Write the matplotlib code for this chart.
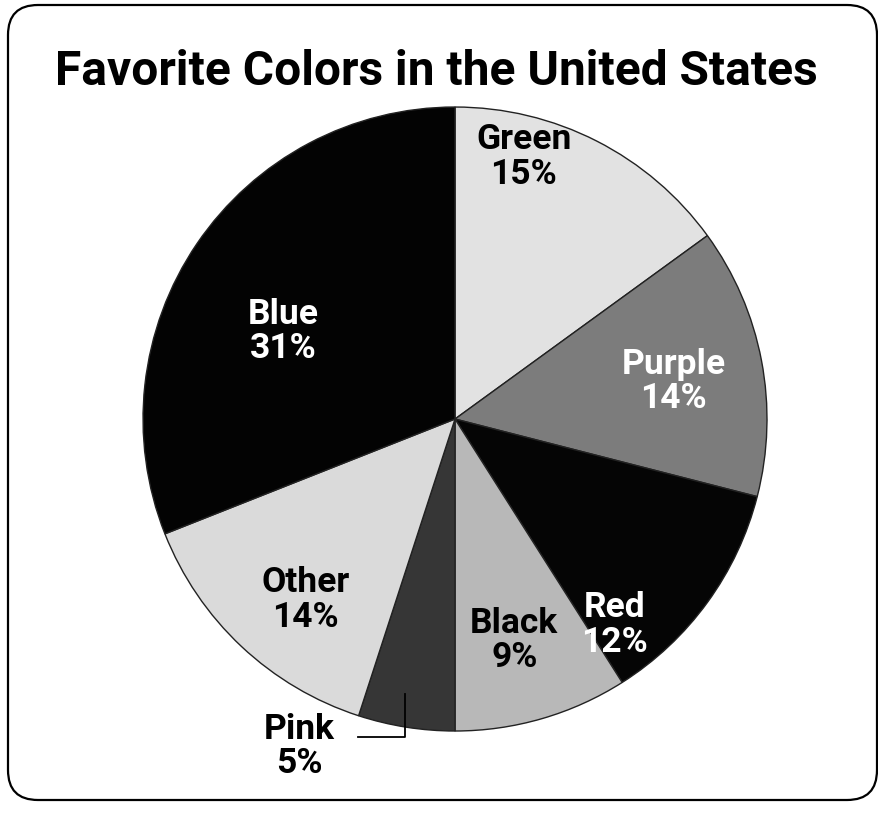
import matplotlib.pyplot as plt
from matplotlib.patches import FancyBboxPatch

# ==== DATA ====
labels = ["Green", "Purple", "Red", "Black", "Pink", "Other", "Blue"]
shares = [15, 14, 12, 9, 5, 14, 31]
colors = ["#e2e2e2", "#7c7c7c", "#050505", "#b8b8b8", "#363636", "#dadada", "#030303"]
text_colors = ["black", "white", "white", "black", "black", "black", "white"]
# label spots, in pie units (radius 1)
label_pos = [(0.22, 0.84), (0.70, 0.12), (0.51, -0.66), (0.19, -0.71),
             (-0.50, -1.05), (-0.48, -0.58), (-0.55, 0.28)]

FONT = ["Roboto", "DejaVu Sans"]

fig = plt.figure(figsize=(8.79, 8.13), dpi=100)

# rounded frame around everything
frame = FancyBboxPatch((0.38, 0.43), 8.09, 7.35,
                       boxstyle="round,pad=0.3,rounding_size=0.3",
                       transform=fig.dpi_scale_trans, fill=False,
                       edgecolor="black", linewidth=1.6)
fig.patches.append(frame)

fig.text(0.496, 0.912, "Favorite Colors in the United States",
         ha="center", va="center", fontsize=34.5, fontweight="bold",
         family=FONT)

# pie centre at (455, 419) px, radius 312 px
ax = fig.add_axes([0.0917, 0.0241, 0.8519, 0.921])
wedges, _ = ax.pie(shares, colors=colors, startangle=90, counterclock=False,
                   wedgeprops=dict(edgecolor="#222222", linewidth=1.0))
ax.set_xlim(-1.2, 1.2)
ax.set_ylim(-1.2, 1.2)
ax.set_aspect("equal")
ax.axis("off")

for name, val, (x, y), tc in zip(labels, shares, label_pos, text_colors):
    ax.text(x, y, f"{name}\n{val}%", ha="center", va="center",
            fontsize=25.5, fontweight="bold", color=tc, family=FONT,
            linespacing=1.05)

# leader line for the small Pink slice
ax.plot([-0.31, -0.16, -0.16], [-1.02, -1.02, -0.88], color="black", lw=1.3)

fig.savefig("out.png", dpi=100)
